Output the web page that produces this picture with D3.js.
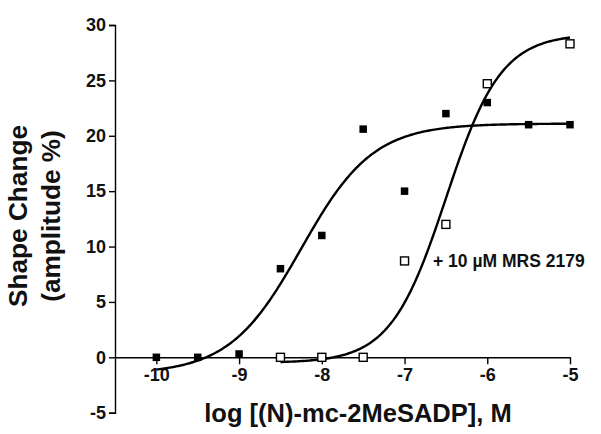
<!DOCTYPE html>
<html>
<head>
<meta charset="utf-8">
<script src="https://cdn.jsdelivr.net/npm/d3@7"></script>
<style>
  body { margin: 0; background: #fff; }
  svg { display: block; font-family: "Liberation Sans", Arial, sans-serif; font-weight: bold; }
</style>
</head>
<body>
<div id="chart"></div>
<script>
// concentraciones (log M) y respuestas
const logConc = [-10, -9.5, -9, -8.5, -8, -7.5, -7, -6.5, -6, -5.5, -5];
const control = [0, 0, 0.3, 8, 11, 20.6, 15, 22, 23, 21, 21];

const logConcMRS = [-8.5, -8, -7.5, -7, -6.5, -6, -5];
const withMRS = [0, 0, 0, 8.7, 12, 24.7, 28.3];

// parámetros del ajuste sigmoide (bottom, top, logEC50, hill, rango de x)
const fitControl = { bottom: -1.5, top: 21.1, logEC50: -8.25, hill: 1.0, from: -10, to: -5 };
const fitMRS = { bottom: -0.5, top: 29.2, logEC50: -6.5, hill: 1.3, from: -8.5, to: -5 };

const xTicks = [-10, -9, -8, -7, -6, -5];
const yTicks = [-5, 0, 5, 10, 15, 20, 25, 30];

const width = 601, height = 434;

const svg = d3.select('#chart').append('svg')
  .attr('width', width)
  .attr('height', height);

const x = d3.scaleLinear().domain([-10.5, -5]).range([115, 570]);
const y = d3.scaleLinear().domain([-5, 30]).range([412.7, 25]);

// etiquetas con guion normal (no signo menos unicode)
const fmt = d => String(d);

// eje y
const yAxis = svg.append('g')
  .attr('transform', `translate(${x(-10.5)},0)`)
  .call(d3.axisLeft(y).tickValues(yTicks).tickSize(6).tickPadding(3).tickFormat(fmt));
yAxis.select('.domain').attr('stroke', '#000').attr('stroke-width', 1.4);
yAxis.selectAll('.tick line').attr('stroke-width', 1.4);
yAxis.selectAll('text').attr('font-size', 18).attr('font-family', null).attr('fill', '#111');

// eje x en y = 0
const xAxis = svg.append('g')
  .attr('transform', `translate(0,${y(0)})`)
  .call(d3.axisBottom(x).tickValues(xTicks).tickSize(7).tickSizeOuter(0).tickPadding(4).tickFormat(fmt));
xAxis.select('.domain').attr('stroke', '#000').attr('stroke-width', 1.4);
xAxis.selectAll('.tick line').attr('stroke-width', 1.4);
xAxis.selectAll('text').attr('font-size', 18).attr('font-family', null).attr('fill', '#111');

// curvas ajustadas
function sigmoid(p) {
  const xs = d3.range(p.from, p.to + 0.001, 0.02);
  return xs.map(v => [v, p.bottom + (p.top - p.bottom) / (1 + Math.pow(10, (p.logEC50 - v) * p.hill))]);
}
const line = d3.line().x(d => x(d[0])).y(d => y(d[1]));

[fitControl, fitMRS].forEach(p => {
  svg.append('path')
    .attr('d', line(sigmoid(p)))
    .attr('fill', 'none')
    .attr('stroke', '#000')
    .attr('stroke-width', 2.4);
});

// puntos control (cuadrados llenos)
const s = 7.5;
svg.append('g').selectAll('rect')
  .data(logConc.map((c, i) => [c, control[i]]))
  .enter().append('rect')
  .attr('x', d => x(d[0]) - s / 2)
  .attr('y', d => y(d[1]) - s / 2)
  .attr('width', s)
  .attr('height', s)
  .attr('fill', '#000');

// puntos con MRS 2179 (cuadrados vacíos)
const so = 8;
svg.append('g').selectAll('rect')
  .data(logConcMRS.map((c, i) => [c, withMRS[i]]))
  .enter().append('rect')
  .attr('x', d => x(d[0]) - so / 2)
  .attr('y', d => y(d[1]) - so / 2)
  .attr('width', so)
  .attr('height', so)
  .attr('fill', '#fff')
  .attr('stroke', '#000')
  .attr('stroke-width', 1.4);

// etiqueta de la serie
svg.append('text')
  .attr('x', 433)
  .attr('y', 267)
  .attr('font-size', 17.5)
  .attr('fill', '#111')
  .text('+ 10 µM MRS 2179');

// títulos de los ejes
svg.append('text')
  .attr('x', 358)
  .attr('y', 422)
  .attr('text-anchor', 'middle')
  .attr('font-size', 25.5)
  .attr('fill', '#111')
  .text('log [(N)-mc-2MeSADP], M');

const yTitle = svg.append('text')
  .attr('transform', 'translate(0,216) rotate(-90)')
  .attr('text-anchor', 'middle')
  .attr('font-size', 26.2)
  .attr('fill', '#111');
yTitle.append('tspan').attr('x', 0).attr('y', 27).text('Shape Change');
yTitle.append('tspan').attr('x', 0).attr('y', 60).text('(amplitude %)');
</script>
</body>
</html>
